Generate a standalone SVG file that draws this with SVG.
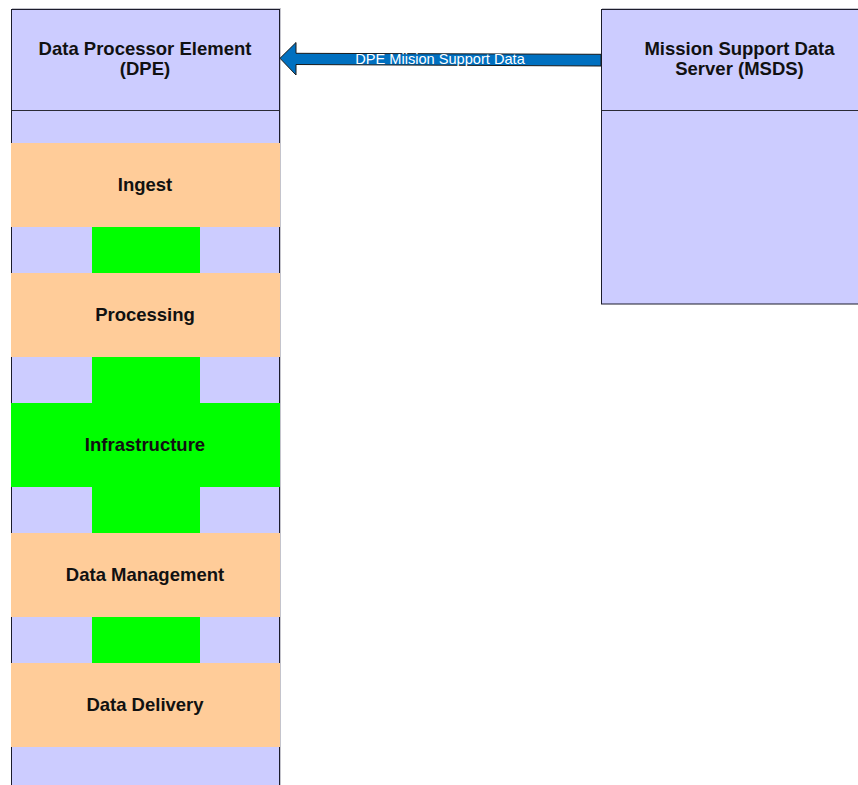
<svg xmlns="http://www.w3.org/2000/svg" width="858" height="785" viewBox="0 0 858 785">
  <style>
    .frame { fill: #CCCCFF; stroke: #1c1c2c; stroke-width: 1; }
    .halo { fill: none; stroke: #c4c4cc; stroke-width: 1; }
    .divider { stroke: #2a2a36; stroke-width: 1.2; }
    .band { fill: #FFCC99; }
    .core { fill: #00FF00; }
    .title { font-family: "Liberation Sans", Arial, sans-serif; font-weight: bold; font-size: 18.5px; fill: #111111; text-anchor: middle; }
    .flow { fill: #0070C0; stroke: #1a1a1a; stroke-width: 1; stroke-linejoin: miter; }
    .flow-label { font-family: "Liberation Sans", Arial, sans-serif; font-size: 14.6px; fill: #ffffff; text-anchor: middle; }
  </style>

  <rect width="858" height="785" fill="#ffffff"/>

  <!-- Data Processor Element column -->
  <g id="dpe">
    <rect class="halo" x="12.5" y="8.5" width="268" height="800"/>
    <rect class="frame" x="11.5" y="9.5" width="268" height="800"/>
    <line class="divider" x1="11.5" y1="110.5" x2="279.5" y2="110.5"/>
    <text class="title" x="145" y="55">Data Processor Element</text>
    <text class="title" x="145" y="75">(DPE)</text>
  </g>

  <!-- Infrastructure spine running through the column -->
  <g id="infrastructure">
    <rect class="core" x="92" y="227" width="108" height="436"/>
    <rect class="core" x="11" y="403" width="269" height="84"/>
    <text class="title" x="145" y="451">Infrastructure</text>
  </g>

  <g id="ingest">
    <rect class="band" x="11" y="143" width="269" height="84"/>
    <text class="title" x="145" y="191">Ingest</text>
  </g>

  <g id="processing">
    <rect class="band" x="11" y="273" width="269" height="84"/>
    <text class="title" x="145" y="321">Processing</text>
  </g>

  <g id="data-management">
    <rect class="band" x="11" y="533" width="269" height="84"/>
    <text class="title" x="145" y="581">Data Management</text>
  </g>

  <g id="data-delivery">
    <rect class="band" x="11" y="663" width="269" height="84"/>
    <text class="title" x="145" y="711">Data Delivery</text>
  </g>

  <!-- Mission Support Data Server -->
  <g id="msds">
    <rect class="halo" x="602.5" y="8.5" width="300" height="294.5"/>
    <rect class="frame" x="601.5" y="9.5" width="300" height="294.5"/>
    <line class="divider" x1="601.5" y1="110.5" x2="858" y2="110.5"/>
    <text class="title" x="739.5" y="55">Mission Support Data</text>
    <text class="title" x="739.5" y="74.5">Server (MSDS)</text>
  </g>

  <!-- Connectors -->
  <g id="connectors">
    <g id="msds-to-dpe">
      <polygon class="flow" points="280,58.3 296,42.5 296,53.3 601,54.3 601,66 296,64.5 296,75"/>
      <text class="flow-label" x="440" y="64">DPE Miision Support Data</text>
    </g>
  </g>
</svg>
